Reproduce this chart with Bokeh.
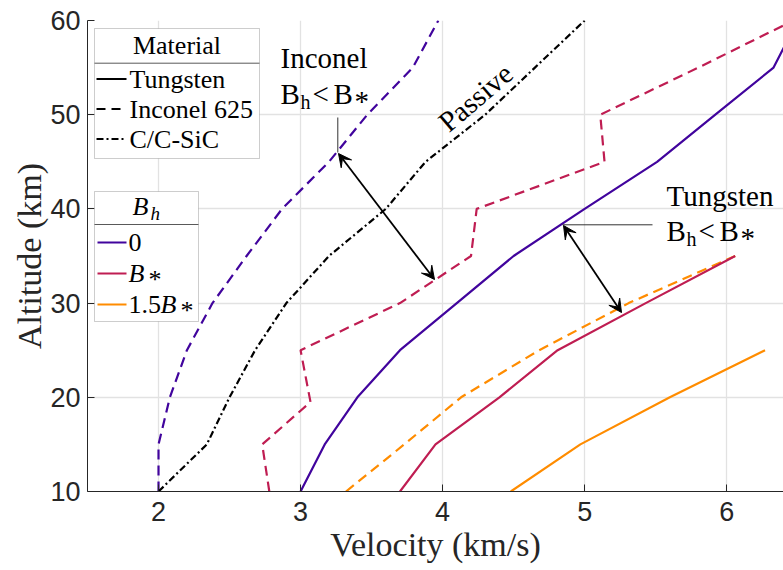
import numpy as np
from bokeh.plotting import figure
from bokeh.models import Label, Arrow, VeeHead, BoxAnnotation, FixedTicker, Range1d, Title
from bokeh.embed import file_html
from bokeh.resources import INLINE

# ---------------- data (velocity km/s vs altitude km) ----------------
altitude = [10, 15, 20, 25, 30, 35, 40, 45, 50, 55, 60]

tungsten_0 = [3.0, 3.17, 3.4, 3.7, 4.1, 4.5, 5.0, 5.51, 5.92, 6.33, 6.5]
tungsten_bstar_alt = [10, 15, 20, 25, 30, 35]
tungsten_bstar = [3.7, 3.95, 4.4, 4.81, 5.43, 6.06]
tungsten_15_alt = [10, 15, 20, 25]
tungsten_15 = [4.48, 4.97, 5.6, 6.27]

inconel_0 = [2.0, 2.0, 2.08, 2.2, 2.38, 2.62, 2.87, 3.2, 3.47, 3.79, 3.97]
inconel_bstar_alt = [10, 15, 19.5, 25, 30, 35, 40, 45, 50, 55, 60]
inconel_bstar = [2.78, 2.73, 3.07, 3.0, 3.7, 4.2, 4.24, 5.14, 5.11, 5.8, 6.47]
inconel_15_alt = [10, 15, 20, 25, 30, 35]
inconel_15 = [3.32, 3.73, 4.13, 4.68, 5.31, 6.06]

ccsic = [2.0, 2.34, 2.5, 2.68, 2.9, 3.2, 3.6, 3.88, 4.3, 4.65, 5.0]

x_ticks = [2, 3, 4, 5, 6]
y_ticks = [10, 20, 30, 40, 50, 60]

x_title = "Velocity (km/s)"
y_title = "Altitude (km)"
material_labels = ["Tungsten", "Inconel 625", "C/C-SiC"]

# ---------------- style ----------------
PURPLE = "#41049d"
CRIMSON = "#bf1d52"
ORANGE = "#ff8c00"
BLACK = "#000000"
AXC = "#262626"
SERIF = "Liberation Serif"
SANS = "Liberation Sans"
DASH = "10 6"
DASHDOT = "7 3 2 3"
LW = 2.2

W, H = 783, 570
FL, FR, FT, FB = 87, 783, 20, 491
XR = (1.5, 6.4)
YR = (10, 60)


def X(px):
    return XR[0] + (px - FL) * (XR[1] - XR[0]) / (FR - FL)


def Y(py):
    return YR[1] - (py - FT) * (YR[1] - YR[0]) / (FB - FT)


p = figure(width=W, height=H, x_range=Range1d(*XR), y_range=Range1d(*YR),
           output_backend="svg", toolbar_location=None,
           min_border_left=FL, min_border_right=W - FR,
           min_border_top=FT, min_border_bottom=H - FB)
p.background_fill_color = "white"
p.border_fill_color = "white"
p.outline_line_color = None

# grid
for g in (p.xgrid, p.ygrid):
    g.grid_line_color = "#e2e2e2"
    g.grid_line_width = 1.3

# axes
p.xaxis.ticker = FixedTicker(ticks=x_ticks)
p.yaxis.ticker = FixedTicker(ticks=y_ticks)
for ax in (p.xaxis[0], p.yaxis[0]):
    ax.major_tick_in = 7
    ax.major_tick_out = 0
    ax.minor_tick_in = 0
    ax.minor_tick_out = 0
    ax.axis_line_color = AXC
    ax.major_tick_line_color = AXC
    ax.major_label_text_font = SANS
    ax.major_label_text_font_size = "27px"
    ax.major_label_text_color = AXC
p.xaxis[0].major_label_standoff = 10
p.yaxis[0].major_label_standoff = 7

# axis titles as side-panel titles (serif font)
p.add_layout(Title(text=x_title, align="center", text_font=SERIF, text_font_size="34px",
                   text_font_style="normal", text_color=AXC, standoff=0), "below")
p.add_layout(Title(text=y_title, align="center", text_font=SERIF, text_font_size="34px",
                   text_font_style="normal", text_color=AXC, standoff=0), "left")

# ---------------- series ----------------
p.line(inconel_0, altitude, color=PURPLE, line_width=LW, line_dash=DASH)
p.line(inconel_bstar, inconel_bstar_alt, color=CRIMSON, line_width=LW, line_dash=DASH)
p.line(inconel_15, inconel_15_alt, color=ORANGE, line_width=LW, line_dash=DASH)
p.line(ccsic, altitude, color=BLACK, line_width=LW, line_dash=DASHDOT)
p.line(tungsten_0, altitude, color=PURPLE, line_width=LW)
p.line(tungsten_bstar, tungsten_bstar_alt, color=CRIMSON, line_width=LW)
p.line(tungsten_15, tungsten_15_alt, color=ORANGE, line_width=LW)


def seg(x0, y0, x1, y1, color="#333333", width=1.0, dash="solid"):
    p.add_layout(Arrow(end=None, x_start=X(x0), y_start=Y(y0), x_end=X(x1), y_end=Y(y1),
                       line_color=color, line_width=width, line_dash=dash))


def label(px, py, text, size="29px", style="normal", align="left",
          angle=0.0, color="black"):
    p.add_layout(Label(x=X(px), y=Y(py), text=text, text_font=SERIF, text_font_size=size,
                       text_font_style=style, text_align=align, text_baseline="middle",
                       angle=angle, text_color=color))


def darrow(x0, y0, x1, y1):
    p.add_layout(Arrow(start=VeeHead(size=13, fill_color="black", line_color="black"),
                       end=VeeHead(size=13, fill_color="black", line_color="black"),
                       x_start=X(x0), y_start=Y(y0), x_end=X(x1), y_end=Y(y1),
                       line_color="black", line_width=1.8))


def bh_less_bstar(x0, ymid):
    # "B_h < B*" built from pieces (subscript h, centred asterisk)
    label(x0, ymid, "B")
    label(x0 + 20, ymid + 8, "h", size="20px")
    label(x0 + 32, ymid, "<")
    label(x0 + 53, ymid, "B")
    label(x0 + 74, ymid + 7, "*")


# ---------------- annotations ----------------
label(475, 97, "Passive", angle=np.deg2rad(40.5), align="center")

label(280, 57, "Inconel")
bh_less_bstar(280, 93)
seg(337.3, 117, 337.3, 152)
darrow(338, 153, 434, 279)

label(666, 195, "Tungsten")
bh_less_bstar(666, 230)
seg(562, 224.3, 652, 224.3)
darrow(563, 225, 621, 312)

# ---------------- legend: Material ----------------
LEG_EDGE = "#595959"
p.add_layout(BoxAnnotation(left=X(94), right=X(259), top=Y(28), bottom=Y(158),
                           fill_color="white", fill_alpha=1.0,
                           line_color=LEG_EDGE, line_width=1))
seg(94, 62.7, 259, 62.7, color=LEG_EDGE)
label(176.5, 45, "Material", size="26px", align="center")
mat_dash = ["solid", "9 6", DASHDOT]
for i, (txt, dsh) in enumerate(zip(material_labels, mat_dash)):
    yy = 78.5 + 30 * i
    seg(96, yy, 126, yy, color="black", width=LW, dash=dsh)
    label(129, yy, txt, size="26px")

# ---------------- legend: B_h ----------------
p.add_layout(BoxAnnotation(left=X(94), right=X(198), top=Y(191), bottom=Y(321),
                           fill_color="white", fill_alpha=1.0,
                           line_color=LEG_EDGE, line_width=1))
seg(94, 224, 198, 224, color=LEG_EDGE)
label(132, 206, "B", size="26px", style="italic")
label(150, 213, "h", size="19px", style="italic")
bh_colors = [PURPLE, CRIMSON, ORANGE]
for i, c in enumerate(bh_colors):
    yy = 242 + 31 * i
    seg(97, yy, 126, yy, color=c, width=LW)
label(128, 242, "0", size="26px")
label(128, 273, "B", size="26px", style="italic")
label(148, 279, "*", size="26px")
label(128, 304, "1.5", size="26px")
label(160, 304, "B", size="26px", style="italic")
label(180, 310, "*", size="26px")

open("out.html", "w").write(file_html(p, INLINE))
